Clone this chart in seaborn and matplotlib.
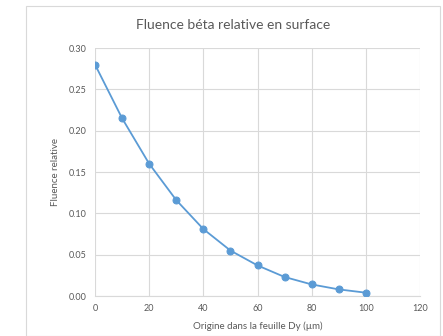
import matplotlib
matplotlib.use("Agg")
import matplotlib.pyplot as plt
import pandas as pd
import seaborn as sns
from matplotlib.patches import Rectangle

# Data
origin_um = [0, 10, 20, 30, 40, 50, 60, 70, 80, 90, 100]
fluence = [0.280, 0.215, 0.160, 0.116, 0.081, 0.055, 0.037, 0.023, 0.014, 0.008, 0.004]
x_ticks = [0, 20, 40, 60, 80, 100, 120]
y_ticks = [0.00, 0.05, 0.10, 0.15, 0.20, 0.25, 0.30]

TITLE = "Fluence béta relative en surface"
XLABEL = "Origine dans la feuille Dy (µm)"
YLABEL = "Fluence relative"

BLUE = "#5B9BD5"
GRID = "#D9D9D9"
TEXT = "#595959"

sns.set_theme(style="white")
plt.rcParams["font.family"] = ["Lato", "DejaVu Sans"]

df = pd.DataFrame({"x": origin_um, "y": fluence})

fig = plt.figure(figsize=(4.43, 3.36), dpi=100)
ax = fig.add_axes([95 / 443, 1 - 296 / 336, 325 / 443, 248 / 336])

# outer chart border
fig.patches.append(Rectangle((25.5 / 443, 0), 414.5 / 443, 1 - 5.5 / 336,
                             transform=fig.transFigure, fill=False,
                             edgecolor=GRID, linewidth=0.8))

sns.lineplot(data=df, x="x", y="y", ax=ax, color=BLUE, linewidth=1.3,
             marker="o", markersize=5, markeredgecolor=BLUE, zorder=3)

ax.set_xlim(0, 120)
ax.set_ylim(0, 0.30)
ax.set_xticks(x_ticks)
ax.set_yticks(y_ticks)
ax.set_yticklabels([f"{v:.2f}" for v in y_ticks])
ax.grid(True, color=GRID, linewidth=0.8)
ax.set_axisbelow(True)
for side in ["left", "right", "top"]:
    ax.spines[side].set_visible(False)
ax.spines["bottom"].set_color(GRID)
ax.spines["bottom"].set_linewidth(0.8)
ax.tick_params(axis="both", length=0, labelsize=6.5, colors=TEXT, pad=6)

ax.set_xlabel(XLABEL, fontsize=7, color=TEXT, labelpad=6)
ax.set_ylabel(YLABEL, fontsize=7, color=TEXT)
ax.yaxis.set_label_coords(-0.108, 0.5)
fig.text(233 / 443, 1 - 25 / 336, TITLE, ha="center", va="center",
         fontsize=10, color=TEXT)

fig.savefig("out.png", dpi=100)
